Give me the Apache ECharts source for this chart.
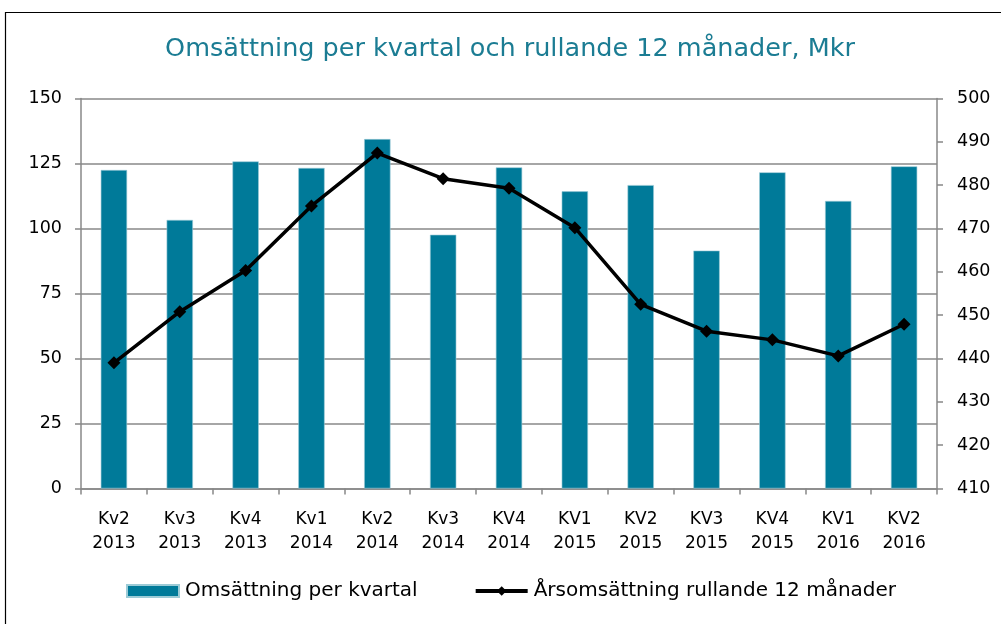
<!DOCTYPE html>
<html><head><meta charset="utf-8">
<script src="https://cdn.jsdelivr.net/npm/echarts@6/dist/echarts.min.js"></script>
<style>html,body{margin:0;padding:0;background:#fff}#c{width:1001px;height:624px}</style>
</head><body><div id="c"></div>
<script>
const categories = ['Kv2\n2013','Kv3\n2013','Kv4\n2013','Kv1\n2014','Kv2\n2014','Kv3\n2014','KV4\n2014','KV1\n2015','KV2\n2015','KV3\n2015','KV4\n2015','KV1\n2016','KV2\n2016'];
const quarterly = [122.5,103.3,125.8,123.3,134.4,97.6,123.5,114.3,116.7,91.5,121.6,110.6,123.9];
const rolling12 = [439.0,450.8,460.3,475.2,487.4,481.5,479.3,470.2,452.5,446.3,444.3,440.6,447.9];
const leftTicks = [0,25,50,75,100,125,150];
const rightTicks = [410,420,430,440,450,460,470,480,490,500];
const FONT = 'DejaVu Sans';
const chart = echarts.init(document.getElementById('c'));
chart.setOption({
  animation:false,
  textStyle:{fontFamily:FONT},
  graphic:[{type:'rect',shape:{x:5.5,y:12.5,width:1100,height:700},style:{fill:'none',stroke:'#000',lineWidth:1.2},silent:true}],
  title:{text:'Omsättning per kvartal och rullande 12 månader, Mkr',left:505,textAlign:'center',top:31,
    textStyle:{color:'#1B7C93',fontSize:25.5,fontWeight:'normal',fontFamily:FONT}},
  legend:{top:581,left:126,padding:0,itemGap:56,itemWidth:52,itemHeight:12,
    textStyle:{fontSize:20,color:'#000',fontFamily:FONT,padding:[0,0,0,1]},
    data:[{name:'Omsättning per kvartal',icon:'rect'},
          {name:'Årsomsättning rullande 12 månader',lineStyle:{width:4,color:'#000'},itemStyle:{color:'#000'}}]},
  grid:{left:81,right:64,top:98.5,bottom:135.5,containLabel:false},
  xAxis:{type:'category',data:categories,
    axisLine:{lineStyle:{color:'#888',width:1.5}},
    axisTick:{show:true,length:6,lineStyle:{color:'#888',width:1.5}},
    axisLabel:{color:'#000',fontSize:17,lineHeight:24,margin:19,fontFamily:FONT}},
  yAxis:[
    {type:'value',min:0,max:150,interval:25,position:'left',
     axisLine:{show:true,lineStyle:{color:'#888',width:1.5}},
     axisTick:{show:true,length:6,lineStyle:{color:'#888',width:1.5}},
     splitLine:{lineStyle:{color:'#888',width:1.5}},
     axisLabel:{color:'#000',fontSize:17.5,margin:19,fontFamily:FONT,
       formatter:v=>leftTicks.includes(v)?String(v):''}},
    {type:'value',min:410,max:500,interval:10,position:'right',
     axisLine:{show:true,lineStyle:{color:'#888',width:1.5}},
     axisTick:{show:true,length:6,lineStyle:{color:'#888',width:1.5}},
     splitLine:{show:false},
     axisLabel:{color:'#000',fontSize:17.5,margin:20,fontFamily:FONT,
       formatter:v=>rightTicks.includes(v)?String(v):''}}
  ],
  series:[
    {name:'Omsättning per kvartal',type:'bar',data:quarterly,barWidth:'40%',yAxisIndex:0,
     itemStyle:{color:'#007A99',borderColor:'#9CCBD6',borderWidth:0.6}},
    {name:'Årsomsättning rullande 12 månader',type:'line',data:rolling12,yAxisIndex:1,
     symbol:'diamond',symbolSize:13,lineStyle:{color:'#000',width:3.5},
     itemStyle:{color:'#000'}}
  ]
});
</script></body></html>
